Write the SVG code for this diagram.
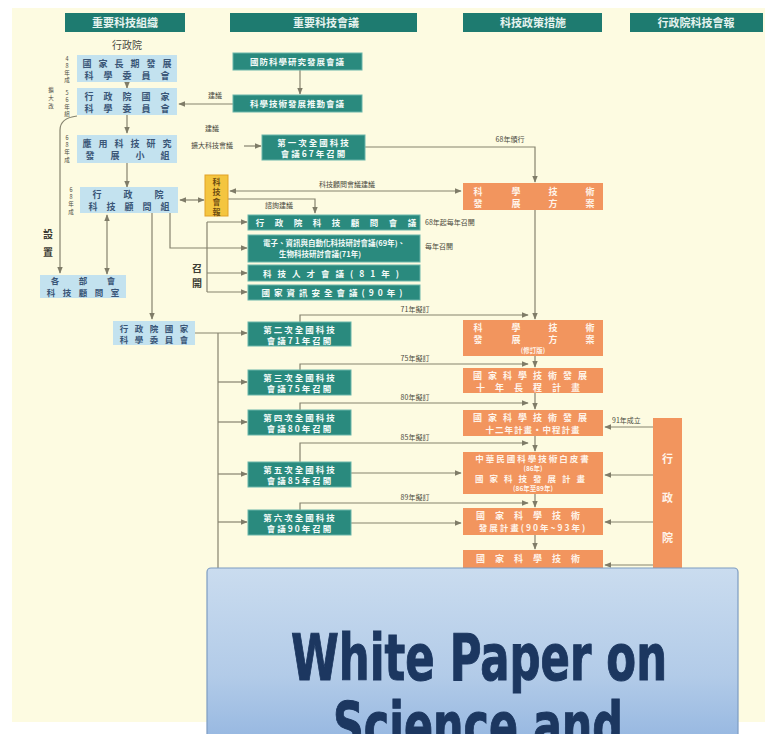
<svg xmlns="http://www.w3.org/2000/svg" width="765" height="734" viewBox="0 0 765 734">
<defs>
<marker id="ah" viewBox="0 0 10 10" refX="9" refY="5" markerWidth="6" markerHeight="6" orient="auto-start-reverse"><path d="M0,1 L10,5 L0,9 z" fill="#7f7c68"/></marker>
<linearGradient id="wp" x1="0" y1="0" x2="0" y2="1"><stop offset="0" stop-color="#cadcef"/><stop offset="0.6" stop-color="#b2cbe8"/><stop offset="1" stop-color="#93b5e0"/></linearGradient>
</defs>
<style>
text{font-family:"Noto Sans CJK TC","Noto Sans CJK SC",sans-serif}
.hd{fill:#1e7b70}
.hdt{font-size:11px;font-weight:bold;fill:#e6f3ef;text-anchor:middle}
.lb{fill:#c3e2ef}
.lbt{font-size:9px;font-weight:bold;fill:#3a5677;text-anchor:middle}
.tl{fill:#2a8a7e;stroke:#6ab5aa;stroke-width:1}
.tlt{font-size:8.5px;font-weight:bold;fill:#f4fbf9;text-anchor:middle}
.or{fill:#f2955e}
.ort{font-size:9px;font-weight:bold;fill:#fff4ea;text-anchor:middle}
.yl{fill:#f4c53f;stroke:#e2a126;stroke-width:1}
.c{stroke:#86836e;stroke-width:1.2;fill:none}
.a{marker-end:url(#ah)}
.aa{marker-start:url(#ah);marker-end:url(#ah)}
.sm{font-size:7px;fill:#4a4a40}
.smm{font-size:7px;fill:#4a4a40;text-anchor:middle}
.vt{font-size:5.5px;fill:#4a4a40;text-anchor:middle}
.wp{font-family:"Liberation Sans Narrow","DejaVu Sans Condensed","Liberation Sans",sans-serif;font-weight:bold;fill:#1c3760;stroke:#1c3760;stroke-width:1;text-anchor:middle}
</style>

<rect x="0" y="0" width="765" height="734" fill="#ffffff"/>
<rect x="12" y="8" width="753" height="714" fill="#fdfbe1"/>

<g id="headers">
<rect class="hd" x="65" y="13" width="120" height="19"/><text class="hdt" x="125" y="27">重要科技組織</text>
<rect class="hd" x="230" y="13" width="187" height="19"/><text class="hdt" x="326" y="27">重要科技會議</text>
<rect class="hd" x="463" y="13" width="139" height="19"/><text class="hdt" x="533" y="27">科技政策措施</text>
<rect class="hd" x="630" y="13" width="133" height="19"/><text class="hdt" x="696" y="27">行政院科技會報</text>
</g>

<g id="connectors">
<line class="c a" x1="127" y1="82" x2="127" y2="88"/>
<line class="c a" x1="127" y1="115" x2="127" y2="133"/>
<line class="c a" x1="127" y1="163" x2="127" y2="187"/>
<line class="c a" x1="300" y1="70" x2="300" y2="94"/>
<line class="c a" x1="233" y1="104" x2="179" y2="104"/>
<line class="c a" x1="244" y1="146" x2="261" y2="146"/>
<path class="c a" d="M77,116 Q60,118 60,130 V273"/>
<line class="c aa" x1="107" y1="215" x2="107" y2="274"/>
<line class="c aa" x1="180" y1="200" x2="204" y2="200"/>
<line class="c aa" x1="230" y1="191" x2="461" y2="191"/>
<path class="c a" d="M228,199 H315 V213"/>
<path class="c a" d="M170,213 V248 H247"/>
<line class="c" x1="207" y1="222" x2="207" y2="292"/>
<line class="c a" x1="207" y1="222" x2="247" y2="222"/>
<line class="c a" x1="207" y1="273" x2="247" y2="273"/>
<line class="c a" x1="207" y1="292" x2="247" y2="292"/>
<line class="c a" x1="152" y1="213" x2="152" y2="319"/>
<line class="c a" x1="195" y1="333" x2="247" y2="333"/>
<line class="c" x1="218" y1="333" x2="218" y2="722"/>
<line class="c a" x1="218" y1="382" x2="247" y2="382"/>
<line class="c a" x1="218" y1="422" x2="247" y2="422"/>
<line class="c a" x1="218" y1="474" x2="247" y2="474"/>
<line class="c a" x1="218" y1="522" x2="247" y2="522"/>
<path class="c a" d="M365,147 H535 V182"/>
<line class="c a" x1="535" y1="210" x2="535" y2="319"/>
<line class="c a" x1="535" y1="356" x2="535" y2="367"/>
<line class="c a" x1="535" y1="393" x2="535" y2="409"/>
<line class="c a" x1="535" y1="436" x2="535" y2="451"/>
<line class="c a" x1="535" y1="494" x2="535" y2="507"/>
<line class="c a" x1="535" y1="535" x2="535" y2="549"/>
<path class="c a" d="M300,322 V315 H528"/>
<path class="c a" d="M300,370 V364 H528"/>
<path class="c a" d="M300,410 V403 H528"/>
<path class="c a" d="M300,462 V443 H528"/>
<path class="c a" d="M300,510 V503 H528"/>
<line class="c a" x1="351" y1="473" x2="461" y2="473"/>
<line class="c a" x1="351" y1="523" x2="461" y2="523"/>
<line class="c a" x1="653" y1="427" x2="605" y2="427"/>
<line class="c a" x1="653" y1="475" x2="605" y2="475"/>
<line class="c a" x1="653" y1="522" x2="605" y2="522"/>
<line class="c a" x1="653" y1="565" x2="605" y2="565"/>
</g>

<g id="labels">
<text class="sm" x="112" y="49" style="font-size:10px">行政院</text>
<text class="smm" x="215" y="98">建議</text>
<text class="smm" x="212" y="131">建議</text>
<text class="smm" x="212" y="148">擴大科技會議</text>
<text class="smm" x="510" y="142">68年頒行</text>
<text class="smm" x="347" y="187">科技顧問會議建議</text>
<text class="smm" x="279" y="208">諮詢建議</text>
<text class="sm" x="425" y="225">68年起每年召開</text>
<text class="sm" x="425" y="249">每年召開</text>
<text class="smm" x="415" y="312">71年擬訂</text>
<text class="smm" x="415" y="361">75年擬訂</text>
<text class="smm" x="415" y="400">80年擬訂</text>
<text class="smm" x="415" y="440">85年擬訂</text>
<text class="smm" x="415" y="500">89年擬訂</text>
<text class="sm" x="612" y="423">91年成立</text>
<text class="vt"><tspan x="67" y="61">4</tspan><tspan x="67" y="68">8</tspan><tspan x="67" y="75">年</tspan><tspan x="67" y="82">成</tspan></text>
<text class="vt"><tspan x="51" y="92">擴</tspan><tspan x="51" y="100">大</tspan><tspan x="51" y="108">改</tspan></text>
<text class="vt"><tspan x="67" y="95">5</tspan><tspan x="67" y="102">6</tspan><tspan x="67" y="109">年</tspan><tspan x="67" y="116">組</tspan></text>
<text class="vt"><tspan x="67" y="140">6</tspan><tspan x="67" y="147">8</tspan><tspan x="67" y="154">年</tspan><tspan x="67" y="162">成</tspan></text>
<text class="vt"><tspan x="71" y="192">6</tspan><tspan x="71" y="199">8</tspan><tspan x="71" y="206">年</tspan><tspan x="71" y="214">成</tspan></text>
<text class="vt" style="font-size:10px;font-weight:bold;fill:#3c3c34"><tspan x="48" y="238">設</tspan><tspan x="48" y="256">置</tspan></text>
<text class="vt" style="font-size:10px;font-weight:bold;fill:#3c3c34"><tspan x="197" y="272">召</tspan><tspan x="197" y="287">開</tspan></text>
</g>

<g id="n_nsdc"><rect class="lb" x="77" y="55" width="100" height="27"/>
<text class="lbt" x="87 103 119 135 151 167" y="67">國家長期發展</text>
<text class="lbt" x="89 108 127 146 165" y="79">科學委員會</text></g>
<g id="n_nsc"><rect class="lb" x="77" y="88" width="100" height="27"/>
<text class="lbt" x="89 108 127 146 165" y="100">行政院國家</text>
<text class="lbt" x="89 108 127 146 165" y="112">科學委員會</text></g>
<g id="n_app"><rect class="lb" x="77" y="135" width="100" height="28"/>
<text class="lbt" x="87 103 119 135 151 167" y="147">應用科技研究</text>
<text class="lbt" x="90 115 140 165" y="159">發展小組</text></g>
<g id="n_stag"><rect class="lb" x="80" y="187" width="98" height="26"/>
<text class="lbt" x="97 128 159" y="198">行政院</text>
<text class="lbt" x="93 111 129 147 165" y="210">科技顧問組</text></g>
<g id="n_min"><rect class="lb" x="40" y="275" width="86" height="23"/>
<text class="lbt" x="55 83 111" y="284" style="font-size:8.5px">各部會</text>
<text class="lbt" x="51 67 83 99 115" y="296" style="font-size:8.5px">科技顧問室</text></g>
<g id="n_nsc2"><rect class="lb" x="113" y="321" width="82" height="24"/>
<text class="lbt" x="124 139 154 169 184" y="332" style="font-size:8.5px">行政院國家</text>
<text class="lbt" x="124 139 154 169 184" y="343" style="font-size:8.5px">科學委員會</text></g>

<g id="n_yellow"><rect class="yl" x="205" y="175" width="23" height="41"/>
<text class="lbt" style="fill:#6b4a10;font-size:8px"><tspan x="216.5" y="185">科</tspan><tspan x="216.5" y="195">技</tspan><tspan x="216.5" y="205">會</tspan><tspan x="216.5" y="215">報</tspan></text></g>

<g id="c_def"><rect class="tl" x="233" y="53" width="129" height="17"/><text class="tlt" x="297.5" y="65" letter-spacing="1">國防科學研究發展會議</text></g>
<g id="c_sci"><rect class="tl" x="233" y="95" width="129" height="17"/><text class="tlt" x="297.5" y="107" letter-spacing="1">科學技術發展推動會議</text></g>
<g id="c_1"><rect class="tl" x="262" y="135" width="103" height="25"/><text class="tlt" x="314" y="146" letter-spacing="2">第一次全國科技</text><text class="tlt" x="314" y="157" letter-spacing="2">會議67年召開</text></g>
<g id="c_adv"><rect class="tl" x="248" y="215" width="172" height="15"/><text class="tlt" x="260 279 298 317 336 355 374 393 412" y="226">行政院科技顧問會議</text></g>
<g id="c_sem"><rect class="tl" x="248" y="235" width="172" height="27"/><text class="tlt" x="334" y="246" style="font-size:7.5px">電子、資訊與自動化科技研討會議(69年)、</text><text class="tlt" x="320" y="257" style="font-size:7.5px">生物科技研討會議(71年)</text></g>
<g id="c_hr"><rect class="tl" x="248" y="265" width="172" height="16"/><text class="tlt" x="334" y="277" letter-spacing="6">科技人才會議(81年)</text></g>
<g id="c_sec"><rect class="tl" x="248" y="285" width="172" height="15"/><text class="tlt" x="334" y="296" letter-spacing="4">國家資訊安全會議(90年)</text></g>
<g id="c_2"><rect class="tl" x="248" y="322" width="103" height="24"/><text class="tlt" x="300" y="333" letter-spacing="2">第二次全國科技</text><text class="tlt" x="300" y="344" letter-spacing="2">會議71年召開</text></g>
<g id="c_3"><rect class="tl" x="248" y="370" width="103" height="25"/><text class="tlt" x="300" y="381" letter-spacing="2">第三次全國科技</text><text class="tlt" x="300" y="392" letter-spacing="2">會議75年召開</text></g>
<g id="c_4"><rect class="tl" x="248" y="410" width="103" height="25"/><text class="tlt" x="300" y="421" letter-spacing="2">第四次全國科技</text><text class="tlt" x="300" y="432" letter-spacing="2">會議80年召開</text></g>
<g id="c_5"><rect class="tl" x="248" y="462" width="103" height="25"/><text class="tlt" x="300" y="473" letter-spacing="2">第五次全國科技</text><text class="tlt" x="300" y="484" letter-spacing="2">會議85年召開</text></g>
<g id="c_6"><rect class="tl" x="248" y="510" width="103" height="25"/><text class="tlt" x="300" y="521" letter-spacing="2">第六次全國科技</text><text class="tlt" x="300" y="532" letter-spacing="2">會議90年召開</text></g>

<g id="p_1"><rect class="or" x="463" y="183" width="140" height="27"/>
<text class="ort" x="478 516 553 590" y="195">科學技術</text><text class="ort" x="478 516 553 590" y="207">發展方案</text></g>
<g id="p_2"><rect class="or" x="463" y="320" width="140" height="36"/>
<text class="ort" x="478 516 553 590" y="331">科學技術</text><text class="ort" x="478 516 553 590" y="343">發展方案</text><text class="ort" x="533" y="353" style="font-size:6.5px">(修訂版)</text></g>
<g id="p_3"><rect class="or" x="463" y="368" width="140" height="25"/>
<text class="ort" x="533" y="379" letter-spacing="6">國家科學技術發展</text><text class="ort" x="533" y="391" letter-spacing="10">十年長程計畫</text></g>
<g id="p_4"><rect class="or" x="463" y="410" width="140" height="26"/>
<text class="ort" x="533" y="421" letter-spacing="6">國家科學技術發展</text><text class="ort" x="533" y="433" style="font-size:8.5px" letter-spacing="1">十二年計畫・中程計畫</text></g>
<g id="p_5"><rect class="or" x="463" y="452" width="140" height="42"/>
<text class="ort" x="533" y="462" style="font-size:8.5px" letter-spacing="2">中華民國科學技術白皮書</text><text class="ort" x="533" y="471" style="font-size:6.5px">(86年)</text>
<text class="ort" x="533" y="482" style="font-size:8.5px" letter-spacing="6">國家科技發展計畫</text><text class="ort" x="533" y="491" style="font-size:6.5px">(86年至89年)</text></g>
<g id="p_6"><rect class="or" x="463" y="508" width="140" height="27"/>
<text class="ort" x="533" y="519" letter-spacing="10">國家科學技術</text><text class="ort" x="533" y="531" style="font-size:8.5px" letter-spacing="2">發展計畫(90年~93年)</text></g>
<g id="p_7"><rect class="or" x="463" y="550" width="140" height="30"/>
<text class="ort" x="533" y="562" letter-spacing="10">國家科學技術</text></g>

<g id="n_exec"><rect class="or" x="653" y="418" width="29" height="300"/>
<text class="ort" style="font-size:11px"><tspan x="667.5" y="463">行</tspan><tspan x="667.5" y="502">政</tspan><tspan x="667.5" y="542">院</tspan></text></g>

<g id="overlay">
<rect x="207" y="568" width="531" height="180" rx="4" fill="url(#wp)" stroke="#7d9cc2" stroke-width="1.2"/>
<text class="wp" x="479" y="680" font-size="64" textLength="376" lengthAdjust="spacingAndGlyphs">White Paper on</text>
<text class="wp" x="478" y="748" font-size="64" textLength="290" lengthAdjust="spacingAndGlyphs">Science and</text>
</g>
</svg>
